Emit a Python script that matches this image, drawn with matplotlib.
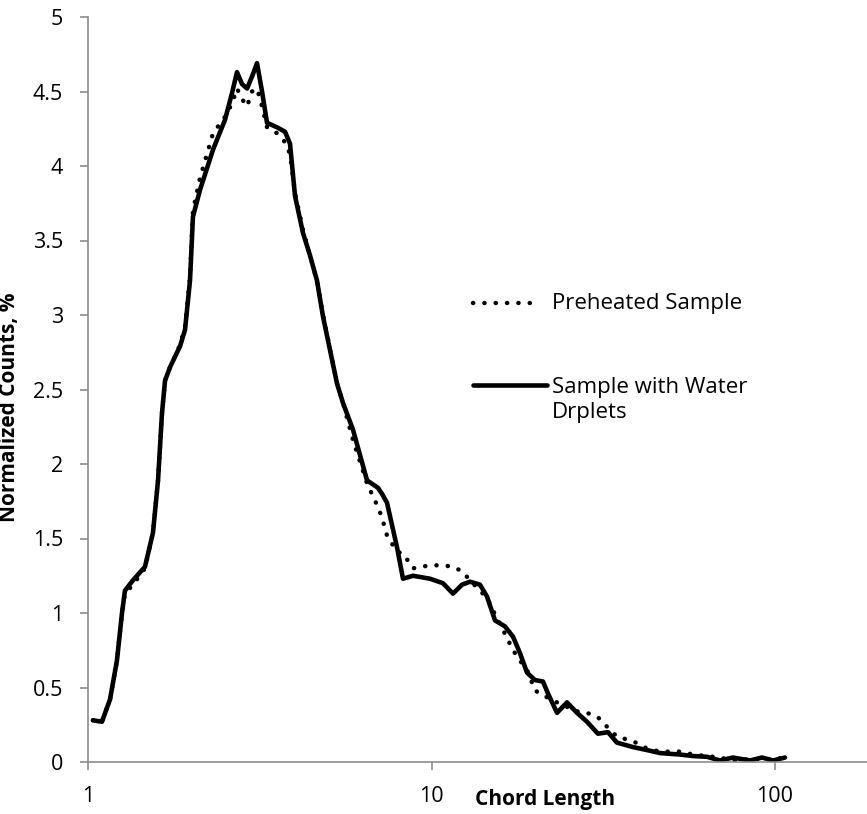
import matplotlib
matplotlib.use("Agg")
import matplotlib.pyplot as plt
from matplotlib.lines import Line2D
from matplotlib.ticker import FixedLocator, FixedFormatter, NullLocator

plt.rcParams['font.family'] = ['Open Sans', 'DejaVu Sans']

# Chord length bins (log axis)
chord_length = [1.034, 1.098, 1.159, 1.214, 1.256, 1.281, 1.352, 1.465, 1.546, 1.599,
                1.642, 1.676, 1.733, 1.853, 1.916, 1.981, 2.021, 2.119, 2.312, 2.505,
                2.626, 2.715, 2.808, 2.904, 3.002, 3.105, 3.211, 3.320, 3.549, 3.746,
                3.873, 4.005, 4.226, 4.429, 4.642, 4.832, 5.308, 5.525, 5.908, 6.491,
                6.987, 7.176, 7.421, 7.937, 8.261, 8.835, 9.90, 10.80, 11.55, 12.27,
                12.94, 13.84, 14.51, 15.31, 16.37, 17.28, 18.10, 18.97, 20.01, 21.11,
                21.83, 23.20, 24.80, 26.52, 28.36, 30.52, 32.64, 34.67, 38.60, 42.41,
                46.27, 52.90, 57.71, 63.39, 69.17, 75.45, 84.56, 91.66, 98.67, 106.9]

preheated = [0.28, 0.27, 0.42, 0.68, 1.00, 1.13, 1.19, 1.30, 1.54, 1.89,
             2.34, 2.56, 2.65, 2.80, 2.92, 3.25, 3.70, 3.92, 4.22, 4.33,
             4.42, 4.52, 4.45, 4.40, 4.50, 4.52, 4.40, 4.26, 4.22, 4.16,
             4.08, 3.82, 3.57, 3.40, 3.23, 3.00, 2.54, 2.41, 2.16, 1.87,
             1.71, 1.64, 1.52, 1.41, 1.40, 1.30, 1.32, 1.32, 1.31, 1.28,
             1.22, 1.15, 1.10, 0.99, 0.86, 0.75, 0.68, 0.62, 0.48, 0.45,
             0.43, 0.40, 0.37, 0.34, 0.33, 0.30, 0.23, 0.17, 0.14, 0.09,
             0.07, 0.07, 0.05, 0.04, 0.03, 0.01, 0.02, 0.02, 0.02, 0.03]

water_droplets = [0.28, 0.27, 0.42, 0.68, 1.00, 1.15, 1.22, 1.31, 1.54, 1.89,
                  2.34, 2.56, 2.65, 2.79, 2.90, 3.23, 3.66, 3.84, 4.11, 4.31,
                  4.49, 4.63, 4.55, 4.52, 4.60, 4.69, 4.50, 4.29, 4.26, 4.23,
                  4.15, 3.80, 3.55, 3.40, 3.23, 2.99, 2.54, 2.41, 2.23, 1.89,
                  1.84, 1.80, 1.74, 1.44, 1.23, 1.25, 1.23, 1.20, 1.13, 1.19,
                  1.21, 1.19, 1.11, 0.95, 0.91, 0.84, 0.73, 0.60, 0.55, 0.54,
                  0.46, 0.33, 0.40, 0.33, 0.27, 0.19, 0.20, 0.13, 0.10, 0.08,
                  0.06, 0.05, 0.04, 0.035, 0.01, 0.03, 0.01, 0.03, 0.01, 0.03]

series_names = ["Preheated Sample", "Sample with Water\nDrplets"]
x_ticks = [1, 10, 100]
x_tick_labels = ["1", "10", "100"]
y_ticks = [0, 0.5, 1, 1.5, 2, 2.5, 3, 3.5, 4, 4.5, 5]
y_tick_labels = ["0", "0.5", "1", "1.5", "2", "2.5", "3", "3.5", "4", "4.5", "5"]

W, H = 867, 814
fig = plt.figure(figsize=(W / 100, H / 100), dpi=100)
ax = fig.add_axes([88 / W, 1 - 762 / H, 1 - 88 / W, (762 - 17) / H])

dot_style = (0, (0.05, 2.5))
ax.plot(chord_length, preheated, color='black', lw=3.2, linestyle=dot_style,
        dash_capstyle='round', solid_joinstyle='round')
ax.plot(chord_length, water_droplets, color='black', lw=3.3,
        solid_joinstyle='round', solid_capstyle='round')

ax.set_xscale('log')
ax.set_xlim(1, 10 ** ((W - 88) / 343.5))
ax.set_ylim(0, 5)
ax.xaxis.set_major_locator(FixedLocator(x_ticks))
ax.xaxis.set_major_formatter(FixedFormatter(x_tick_labels))
ax.xaxis.set_minor_locator(NullLocator())
ax.yaxis.set_major_locator(FixedLocator(y_ticks))
ax.yaxis.set_major_formatter(FixedFormatter(y_tick_labels))

gray = '#8c8c8c'
for s in ['top', 'right']:
    ax.spines[s].set_visible(False)
for s in ['left', 'bottom']:
    ax.spines[s].set_color(gray)
    ax.spines[s].set_linewidth(1.2)
ax.tick_params(axis='both', direction='out', length=6, width=1.2, color=gray,
               labelsize=15.5, labelcolor='black')
ax.tick_params(axis='x', pad=11)
ax.tick_params(axis='y', pad=12)

ax.set_ylabel("Normalized Counts, %", fontsize=15, fontweight='bold')
ax.yaxis.set_label_coords(20 / W, 0.5, transform=fig.transFigure)
fig.text(475 / W, 1 - 805 / H, "Chord Length", fontsize=15, fontweight='bold',
         ha='left', va='baseline')

# Legend
fig.add_artist(Line2D([473 / W, 537 / W], [1 - 303 / H, 1 - 303 / H], color='black',
                      lw=3.2, linestyle=dot_style, dash_capstyle='round'))
fig.add_artist(Line2D([473 / W, 547 / W], [1 - 385 / H, 1 - 385 / H], color='black',
                      lw=3.3, solid_capstyle='round'))
fig.text(552 / W, 1 - 304 / H, series_names[0], fontsize=16, ha='left', va='center')
fig.text(552 / W, 1 - 400 / H, series_names[1], fontsize=16, ha='left', va='center',
         linespacing=1.2)

fig.savefig("out.png", dpi=100)
